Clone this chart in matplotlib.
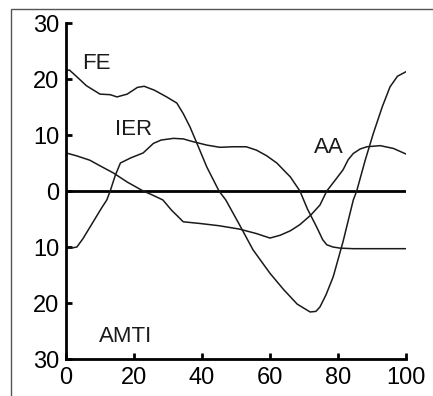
import matplotlib
matplotlib.use("Agg")
import matplotlib.pyplot as plt
from matplotlib.ticker import FuncFormatter
from matplotlib.patches import Rectangle

plt.rcParams['font.family'] = ['Liberation Sans', 'DejaVu Sans']

# gait cycle (%) vs angle (deg)
fe_x = [0, 1, 3, 6, 10, 13, 15, 18, 21, 23, 26, 29.6, 32.6, 34.5, 36.5, 39, 41.4, 45, 47, 51, 55, 60, 64, 68, 71.8, 73.5, 74.7, 76.5, 78.6, 81.5, 84.5, 85.5, 88, 90.4, 93, 95.3, 97.5, 100]
fe_y = [21.5, 21.6, 20.5, 18.8, 17.3, 17.2, 16.8, 17.3, 18.5, 18.7, 18.0, 16.8, 15.7, 13.8, 11.4, 7.8, 4.3, 0.0, -1.6, -6.0, -10.5, -14.7, -17.6, -20.2, -21.6, -21.5, -20.7, -18.5, -15.3, -9.0, -1.6, 0.0, 5.5, 10.3, 15.0, 18.6, 20.5, 21.3]

ier_x = [0, 1.5, 3.2, 5, 8, 10.5, 12, 13, 14.5, 16, 19, 22.7, 25.7, 28, 31.6, 34.5, 37.4, 41.4, 45.3, 49, 53, 56, 59, 62, 66, 68.8, 71, 73.7, 75.5, 76.7, 78.5, 80.6, 84.5, 90, 100]
ier_y = [-10.2, -10.2, -10.0, -8.5, -5.5, -3.0, -1.6, 0.0, 2.8, 5.0, 5.9, 6.8, 8.5, 9.1, 9.4, 9.3, 8.8, 8.2, 7.8, 7.9, 7.9, 7.3, 6.3, 5.0, 2.5, 0.0, -3.2, -6.4, -8.7, -9.6, -10.0, -10.2, -10.3, -10.3, -10.3]

aa_x = [0, 3, 7, 10, 14, 18, 22.7, 25, 28.5, 31, 34.5, 39.4, 45, 51, 56, 60, 63, 66, 68.8, 72, 74.7, 76.7, 79, 81.5, 83, 84.5, 86.5, 88.5, 92.4, 96.3, 100]
aa_y = [6.8, 6.3, 5.5, 4.5, 3.2, 1.6, 0.0, -0.6, -1.6, -3.4, -5.5, -5.8, -6.2, -6.8, -7.6, -8.4, -7.9, -7.1, -6.0, -4.3, -2.5, 0.0, 1.8, 3.8, 5.6, 6.7, 7.5, 7.9, 8.1, 7.6, 6.6]

labels = ["FE", "IER", "AA", "AMTI"]
label_pos = [(9, 22.7), (19.8, 10.9), (77.4, 7.7), (17.6, -26)]

fig = plt.figure(figsize=(4.33, 3.96), dpi=100)
fig.patches.append(Rectangle((11 / 433, -0.1), 1.2, 1 - 9 / 396 + 0.1,
                             transform=fig.transFigure, fill=False,
                             edgecolor='#555555', linewidth=1.0))
ax = fig.add_axes([66 / 433, 1 - 359 / 396, 340 / 433, 336 / 396])

ax.plot([0, 100], [0, 0], color='black', linewidth=2.0)
for xs, ys in [(fe_x, fe_y), (ier_x, ier_y), (aa_x, aa_y)]:
    ax.plot(xs, ys, color='#1a1a1a', linewidth=1.1, solid_joinstyle='round')

for txt, (lx, ly) in zip(labels, label_pos):
    ax.text(lx, ly, txt, fontsize=16, ha='center', va='center', color='#1a1a1a')

ax.set_xlim(0, 100)
ax.set_ylim(-30, 30)
ax.set_xticks([0, 20, 40, 60, 80, 100])
ax.set_yticks([-30, -20, -10, 0, 10, 20, 30])
ax.yaxis.set_major_formatter(FuncFormatter(lambda v, p: "%d" % abs(v)))
ax.spines['top'].set_visible(False)
ax.spines['right'].set_visible(False)
for s in ['left', 'bottom']:
    ax.spines[s].set_linewidth(2.0)
ax.tick_params(direction='in', length=4, width=2, labelsize=17)
ax.tick_params(axis='y', pad=5)
ax.tick_params(axis='x', pad=6)
ax.patch.set_alpha(0)

fig.savefig("out.png", dpi=100)
